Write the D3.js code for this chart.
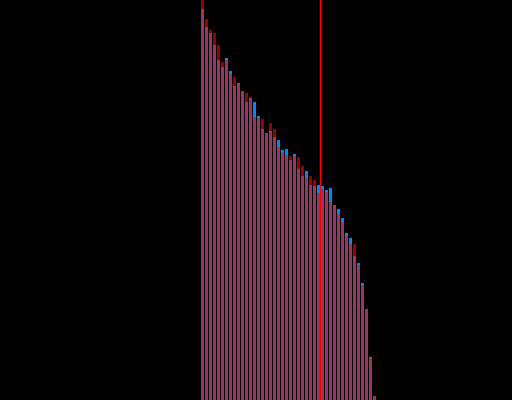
<!DOCTYPE html>
<html>
<head>
<meta charset="utf-8">
<style>
  html, body { margin: 0; padding: 0; background: #000; overflow: hidden; }
</style>
</head>
<body>
<script src="https://cdn.jsdelivr.net/npm/d3@7"></script>
<script>

var width = 512, height = 400;

// bin index of each bar
var bins = d3.range(44);

// heights of the two overlapping series (same units as y domain)
var blueVals = [391, 373, 367, 355, 340, 333, 342, 329, 314, 317, 309, 298,
                302, 298, 284, 271, 267, 269, 263, 260, 250, 251, 240, 246,
                231, 224, 229, 215, 214, 215, 214, 210, 212, 195, 191, 182,
                167, 162, 144, 137, 117, 91, 43, 4];
var redVals  = [400, 381, 370, 367, 355, 338, 340, 326, 323, 316, 309, 307,
                303, 283, 282, 281, 267, 277, 271, 253, 247, 245, 244, 244,
                243, 234, 222, 224, 220, 207, 211, 208, 198, 195, 187, 178,
                164, 156, 156, 135, 115, 91, 42, 4];

// marker position (bin boundary)
var marker = 30;

var x = d3.scaleLinear().domain([0, 44]).range([200, 376]);
var y = d3.scaleLinear().domain([0, 400]).range([height, 0]);

var svg = d3.select("body").append("svg")
    .attr("width", width)
    .attr("height", height)
    .style("display", "block");

svg.append("rect")
    .attr("width", width)
    .attr("height", height)
    .attr("fill", "#000");

// blue series underneath
svg.append("g").selectAll("rect")
    .data(bins)
  .enter().append("rect")
    .attr("x", function(d) { return x(d) + 1; })
    .attr("width", function(d) { return x(d + 1) - x(d) - 1; })
    .attr("y", function(d) { return y(blueVals[d]); })
    .attr("height", function(d) { return y(0) - y(blueVals[d]); })
    .attr("fill", "rgb(0,136,255)");

// red series on top, translucent
svg.append("g").selectAll("rect")
    .data(bins)
  .enter().append("rect")
    .attr("x", function(d) { return x(d) + 1; })
    .attr("width", function(d) { return x(d + 1) - x(d) - 1; })
    .attr("y", function(d) { return y(redVals[d]); })
    .attr("height", function(d) { return y(0) - y(redVals[d]); })
    .attr("fill", "rgb(255,0,0)")
    .attr("fill-opacity", 0.6);

// vertical marker
svg.append("line")
    .attr("x1", x(marker) + 0.5)
    .attr("x2", x(marker) + 0.5)
    .attr("y1", 0)
    .attr("y2", height)
    .attr("stroke", "red")
    .attr("stroke-width", 1.5);

</script>
</body>
</html>
